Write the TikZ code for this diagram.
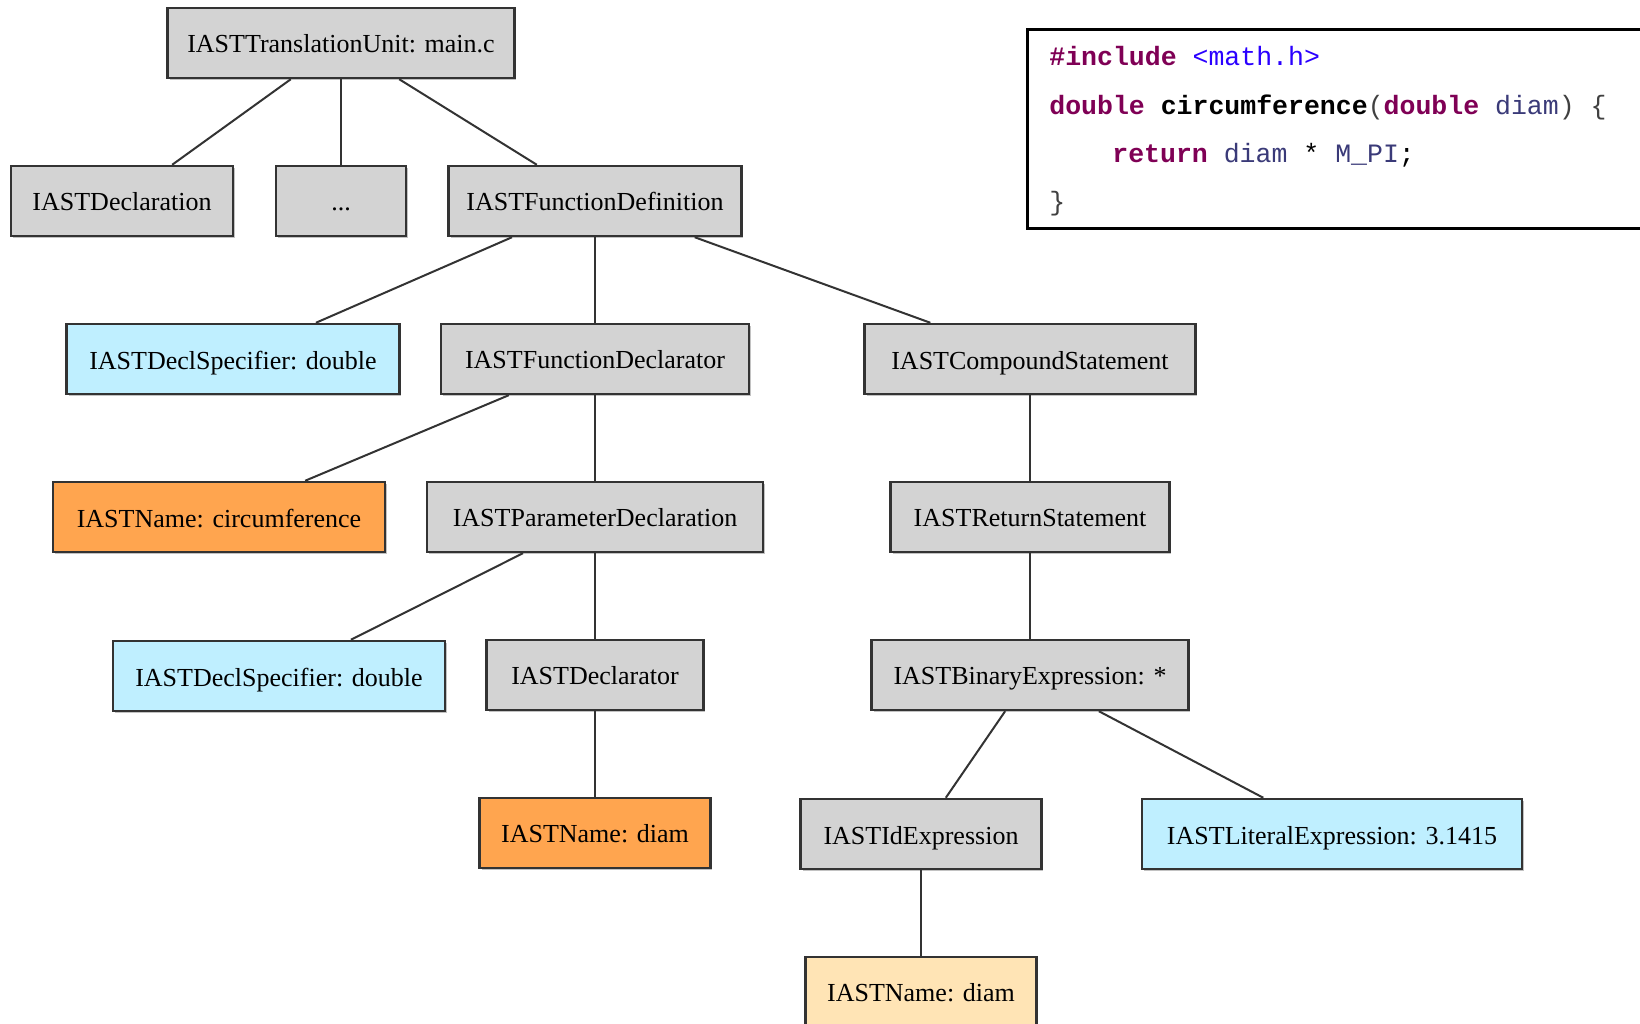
\documentclass[tikz,border=0pt]{standalone}
\usepackage{fontspec}
\setmainfont{Liberation Serif}
\setmonofont{Liberation Mono}
\usepackage{tikz}
\usetikzlibrary{positioning,shadows}
\definecolor{astgray}{HTML}{D3D3D3}
\definecolor{astblue}{HTML}{BFEFFF}
\definecolor{astorange}{HTML}{FFA54F}
\definecolor{astbeige}{HTML}{FFE4B5}
\definecolor{kwpurple}{HTML}{7F0055}
\definecolor{strblue}{HTML}{2A00FF}
\definecolor{varnavy}{HTML}{3A3A78}

\begin{document}
\begin{tikzpicture}[x=0.02cm, y=-0.02cm, node distance={31.6mm},
  main/.style = {draw=black!80, line width=0.05cm, fill=astgray, rectangle, minimum height=14mm, inner sep=0pt,
    text height=5mm, text depth=1mm, font=\fontsize{14.8}{17}\selectfont,
    drop shadow={shadow xshift=0.04cm, shadow yshift=-0.04cm, fill=black!40, opacity=0.6}},
  specbox/.style = {main, fill=astblue},
  namebox/.style = {main, fill=astorange},
  refbox/.style = {main, fill=astbeige},
  astlink/.style = {draw=black!80, line width=0.04cm},
  codeline/.style = {anchor=base west, inner sep=0pt, font=\fontsize{15.1}{18}\selectfont\ttfamily}]
            \useasboundingbox (0,0) rectangle (1640,1024);

            % translation unit and its children
            \node[main, minimum width=69.4mm] (TU) at (341,43) {IASTTranslationUnit: main.c};
            \node[main, minimum width=44.4mm] (Decl) at (122,201) {IASTDeclaration};
            \node[main, minimum width=26mm] (dots) [below of=TU] {...};
            \node[main, minimum width=58.6mm] (FD) at (595,201) {IASTFunctionDefinition};

            \node[specbox, minimum width=66.6mm] (DS) at (233,359) {IASTDeclSpecifier: double};
            \node[main, minimum width=61.6mm] (FDecl) [below of=FD] {IASTFunctionDeclarator};
            \node[main, minimum width=66.2mm] (CS) at (1030,359) {IASTCompoundStatement};

            % declarator side
            \node[namebox, minimum width=66.4mm] (NC) at (219,517) {IASTName: circumference};
            \node[main, minimum width=67.2mm] (PD) [below of=FDecl] {IASTParameterDeclaration};
            \node[specbox, minimum width=66.4mm] (PDS) at (279,676) {IASTDeclSpecifier: double};
            \node[main, minimum width=43.4mm] (Dcl) [below of=PD] {IASTDeclarator};
            \node[namebox, minimum width=46.2mm] (ND) [below of=Dcl] {IASTName: diam};

            % body side
            \node[main, minimum width=55.8mm] (RS) [below of=CS] {IASTReturnStatement};
            \node[main, minimum width=63.4mm] (BE) [below of=RS] {IASTBinaryExpression: *};
            \node[main, minimum width=48.2mm] (IdE) at (921,834) {IASTIdExpression};
            \node[specbox, minimum width=76mm] (LE) at (1332,834) {IASTLiteralExpression: 3.1415};
            \node[refbox, minimum width=46.2mm] (ND2) [below of=IdE] {IASTName: diam};

            \path[astlink] (TU) edge (Decl) edge (dots) edge (FD);
            \path[astlink] (FD) edge (DS) edge (FDecl) edge (CS);
            \path[astlink] (FDecl) edge (NC) edge (PD);
            \path[astlink] (PD) edge (PDS) edge (Dcl);
            \path[astlink] (Dcl) edge (ND);
            \path[astlink] (CS) edge (RS);
            \path[astlink] (RS) edge (BE);
            \path[astlink] (BE) edge (IdE) edge (LE);
            \path[astlink] (IdE) edge (ND2);

            % source code
            \draw[line width=0.06cm] (1027,30) rectangle (1670,228);
            \node[codeline] (inc) at (1049,66) {\textcolor{kwpurple}{\bfseries\#include} \textcolor{strblue}{<math.h>}};
            \node[codeline] (sig) at (1049,114) {\textcolor{kwpurple}{\bfseries double} \textbf{circumference}\textcolor{black!75}{(}\textcolor{kwpurple}{\bfseries double} \textcolor{varnavy}{diam}\textcolor{black!75}{) \{}};
            \node[codeline] (ret) at (1112,162) {\textcolor{kwpurple}{\bfseries return} \textcolor{varnavy}{diam} * \textcolor{varnavy}{M\_PI};};
            \node[codeline] (close) at (1049,210) {\textcolor{black!75}{\}}};
        \end{tikzpicture}
\end{document}
